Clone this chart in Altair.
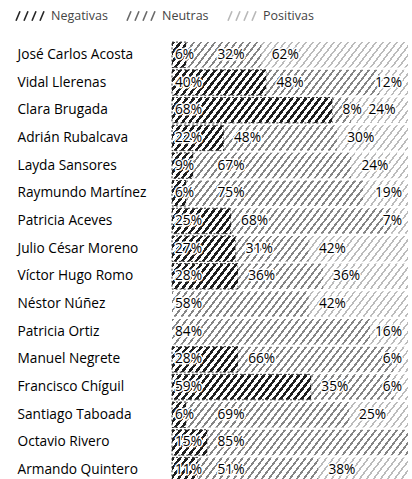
import math
import altair as alt

# ---- data ----
names = ["José Carlos Acosta", "Vidal Llerenas", "Clara Brugada", "Adrián Rubalcava",
         "Layda Sansores", "Raymundo Martínez", "Patricia Aceves", "Julio César Moreno",
         "Víctor Hugo Romo", "Néstor Núñez", "Patricia Ortiz", "Manuel Negrete",
         "Francisco Chíguil", "Santiago Taboada", "Octavio Rivero", "Armando Quintero"]
negativas = [6, 40, 68, 22, 9, 6, 25, 27, 28, 0, 0, 28, 59, 6, 15, 11]
neutras   = [32, 48, 8, 48, 67, 75, 68, 31, 36, 58, 84, 66, 35, 69, 85, 51]
positivas = [62, 12, 24, 30, 24, 19, 7, 42, 36, 42, 16, 6, 6, 25, 0, 38]
categories = ["Negativas", "Neutras", "Positivas"]

# ---- styling ----
PLOT_W, PLOT_H = 236, 438
Y_RANGE = 443            # bands run slightly past the bottom edge, as in the scan
N = len(names)
PAD_IN, PAD_OUT = 0.08, 0.04
STEP = Y_RANGE / (N - PAD_IN + 2 * PAD_OUT)
BAR_H = STEP * (1 - PAD_IN)
SLOPE = 1.3          # steepness of the "/" hatch
PERIOD_X = 7.0       # horizontal spacing of hatch lines (px)
hatch_style = {
    "Negativas": ("#1e1e1e", 0.45),
    "Neutras": ("#858585", 0.32),
    "Positivas": ("#bcbcbc", 0.28),
}
BG = "#ffffff"
FONT = "Open Sans"
FS = 13.7


def hatch_gradient(start_pct, pct, cat):
    """Linear gradient with hard stops that draws diagonal hatching."""
    col, frac = hatch_style[cat]
    W = pct / 100 * PLOT_W
    X0 = start_pct / 100 * PLOT_W
    H = BAR_H
    s = SLOPE
    U = s * W + H
    c = U / (s * s * W * W + H * H)
    P = s * PERIOD_X
    off = s * X0

    def color_at(u):
        g = (u + off) % P
        return col if g < frac * P else BG

    bounds = []
    n = math.floor(off / P) - 1
    while n * P - off < U + P:
        for b in (n * P - off, n * P + frac * P - off):
            if 0 < b < U:
                bounds.append(b)
        n += 1
    bounds.sort()
    stops = [{"offset": 0, "color": color_at(0)}]
    for b in bounds:
        o = round(b / U, 5)
        stops.append({"offset": o, "color": color_at(b - 1e-6)})
        stops.append({"offset": o, "color": color_at(b + 1e-6)})
    stops.append({"offset": 1, "color": color_at(U)})
    return {"gradient": "linear", "x1": 0, "y1": 0,
            "x2": round(c * s * W, 5), "y2": round(c * H, 5), "stops": stops}


records = []
for i, name in enumerate(names):
    acc = 0
    for k, (cat, vals) in enumerate(zip(categories, [negativas, neutras, positivas])):
        v = vals[i]
        if v > 0:
            records.append({"name": name, "cat": cat, "order": k, "pct": v,
                            "grad": hatch_gradient(acc, v, cat)})
        acc += v

base = alt.Chart(alt.Data(values=records)).transform_stack(
    stack="pct", groupby=["name"], as_=["x0", "x1"], sort=[alt.SortField("order")]
).transform_calculate(
    lbl="datum.pct + '%'",
    negp="datum.cat == 'Negativas' ? datum.pct : 0",
).transform_joinaggregate(
    negsum="sum(negp)", groupby=["name"]
).transform_calculate(
    neulab="datum.negsum > 0 ? max(datum.negsum + 3, 18) : 0"
).transform_calculate(
    labx="datum.cat == 'Negativas' ? datum.x0 : (datum.cat == 'Neutras' ? datum.neulab : max(datum.x0 + 3, datum.neulab + 11))"
)

xscale = alt.Scale(domain=[0, 100], nice=False)
y = alt.Y("name:N", sort=names,
          scale=alt.Scale(paddingInner=PAD_IN, paddingOuter=PAD_OUT, range=[0, Y_RANGE]),
          axis=alt.Axis(title=None, labelAlign="left", labelPadding=155, ticks=False,
                        domain=False, labelFont=FONT, labelFontSize=FS,
                        labelColor="#000000", labelLimit=200))
x = alt.X("x0:Q", scale=xscale, axis=None)

bars = base.mark_bar(strokeDash=[2, 2], strokeWidth=1).encode(
    y=y, x=x, x2="x1:Q",
    fill=alt.Fill("grad:N", scale=None),
    stroke=alt.condition("datum.cat == 'Negativas'", alt.value("#333333"),
                         alt.value("transparent")),
)

main_filter = "!(datum.cat == 'Positivas' && datum.pct < 20)"
end_filter = "datum.cat == 'Positivas' && datum.pct < 20"
txt = dict(fontSize=FS, font=FONT)
xlab = alt.X("labx:Q", scale=xscale, axis=None)
xend = alt.X("x1:Q", scale=xscale, axis=None)

halo_main = base.transform_filter(main_filter).mark_text(
    align="left", dx=3, color="#ffffff", stroke="#ffffff", strokeWidth=3,
    strokeJoin="round", **txt).encode(y=y, x=xlab, text="lbl:N")
lab_main = base.transform_filter(main_filter).mark_text(
    align="left", dx=3, color="#000000", **txt).encode(y=y, x=xlab, text="lbl:N")
halo_end = base.transform_filter(end_filter).mark_text(
    align="right", dx=-6, color="#ffffff", stroke="#ffffff", strokeWidth=3,
    strokeJoin="round", **txt).encode(y=y, x=xend, text="lbl:N")
lab_end = base.transform_filter(end_filter).mark_text(
    align="right", dx=-6, color="#000000", **txt).encode(y=y, x=xend, text="lbl:N")

SWATCH = "M-1,0.3L-0.75,-0.3M-0.5,0.3L-0.25,-0.3M0,0.3L0.25,-0.3M0.5,0.3L0.75,-0.3"
legend_layer = base.mark_point(opacity=0, filled=False).encode(
    y=y, x=x,
    stroke=alt.Stroke("cat:N",
                      scale=alt.Scale(domain=categories,
                                      range=["#262626", "#6a6a6a", "#b8b8b8"]),
                      legend=alt.Legend(title=None, orient="none", legendX=-157,
                                        legendY=-42, direction="horizontal",
                                        symbolType=SWATCH, symbolSize=1024,
                                        symbolStrokeWidth=1.6, symbolOpacity=1,
                                        symbolFillColor="transparent",
                                        labelFont=FONT, labelFontSize=12.5,
                                        labelColor="#444444", labelOffset=2,
                                        columnPadding=15, padding=0)),
)

chart = alt.layer(bars, legend_layer, halo_main, lab_main, halo_end, lab_end).properties(
    width=PLOT_W, height=PLOT_H,
    autosize=alt.AutoSizeParams(type="none"),
    padding={"left": 172, "top": 41, "right": 4, "bottom": 0},
    background="#ffffff",
).configure_view(stroke=None)

chart.save("out.html", embed_options={"renderer": "svg", "actions": False})
